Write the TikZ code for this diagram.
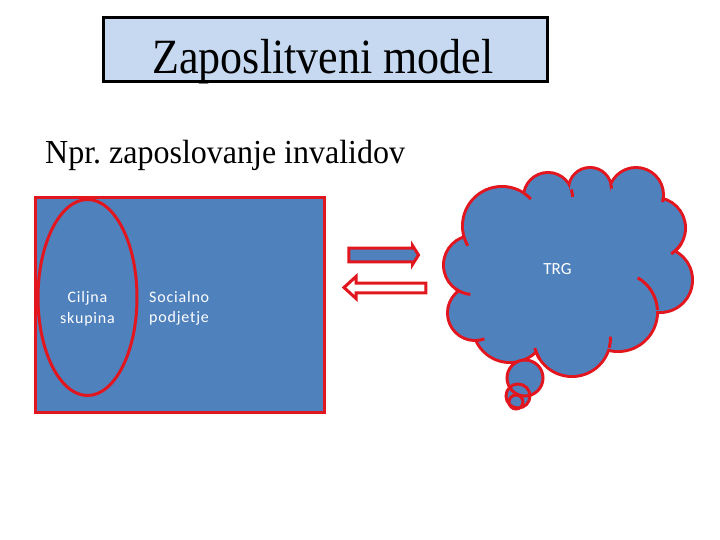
\documentclass[tikz,border=0pt]{standalone}
\usepackage{fontspec}
\usepackage{graphicx}
\setmainfont{Liberation Serif}
\newfontfamily\calib[LetterSpace=5]{Carlito}
\newfontfamily\calibn{Carlito}
\definecolor{pblue}{RGB}{79,129,189}
\definecolor{pred}{RGB}{226,22,30}
\definecolor{tblue}{RGB}{198,217,241}
\tikzset{
  redline/.style={draw=pred, line width=3pt},
  sanslabel/.style={text=white, font=\calib\fontsize{16}{20.5}\selectfont, inner sep=0pt, align=left},
}
\frenchspacing
\begin{document}
\begin{tikzpicture}[x=1pt,y=-1pt]
\useasboundingbox (0,0) rectangle (720,540);
\fill[white] (0,0) rectangle (720,540);

% title
\draw[fill=tblue, draw=black, line width=3pt] (103,18) rectangle (547,82);
\node[anchor=base, inner sep=0pt, font=\fontsize{44}{50}\selectfont] (title) at (323,74) {\scalebox{1}[1.12]{Zaposlitveni model}};

\node[anchor=base west, inner sep=0pt, font=\fontsize{32}{36}\selectfont] (sub) at (45,163.5) {\scalebox{1}[1.05]{Npr. zaposlovanje invalidov}};

% social enterprise box
\draw[redline, fill=pblue] (35.5,198) rectangle (324.5,412.5);
\draw[redline] (87.5,297.5) ellipse[x radius=49.5, y radius=98];
\node[sanslabel, align=center, anchor=base] (ciljna) at (87.5,323) {Ciljna\\skupina};
\node[sanslabel, anchor=base west] (socialno) at (149,322.5) {Socialno\\podjetje};

% arrows
\draw[redline, fill=pblue, line join=miter] (348.8,248.2) -- (412.5,248.2) -- (412.5,245.5) -- (418.5,255) -- (412.5,264.5) -- (412.5,261.8) -- (348.8,261.8) -- cycle;
\draw[redline, fill=white, line join=miter] (425.8,283.2) -- (356,283.2) -- (356,276.5) -- (344,287.5) -- (356,298.5) -- (356,292.8) -- (425.8,292.8) -- cycle;

% cloud
\def\puffs{473/265/28, 502/226/38, 548/197/23, 590/189/20, 636/195/26, 655/228/29, 660/280/31, 618/312/38, 572/338/37, 510/325/36, 475/313/26}
\foreach \cx/\cy/\r in \puffs { \draw[pred, line width=6pt] (\cx,\cy) circle[radius=\r]; }
\fill[pblue] (473,265) -- (502,226) -- (548,197) -- (590,189) -- (636,195) -- (655,228) -- (660,280) -- (618,312) -- (572,338) -- (510,325) -- (475,313) -- cycle;
\foreach \cx/\cy/\r in \puffs { \fill[pblue] (\cx,\cy) circle[radius=\r]; }
% inner hooks
\foreach \cx/\cy/\r/\a/\b in {473/265/29.5/95/126, 502/226/39.5/150/162, 502/226/39.5/305/317, 548/197/24.5/342/360, 590/189/21.5/349/359, 636/195/27.5/6/15, 655/228/30.5/29/58, 618/312/39.5/-60/-3, 572/338/38.5/147/165, 572/338/38.5/-2/15, 475/313/27.5/70/88}
  { \draw[pred, line width=3pt] ([shift={(\a:\r)}]\cx,\cy) arc[start angle=\a, end angle=\b, radius=\r]; }
% thought bubbles
\fill[pblue] (525,378) circle[radius=18] (518,396) circle[radius=12] (516,402) circle[radius=7];
\draw[redline] (525,378) circle[radius=18];
\draw[redline] (518,396) circle[radius=12];
\draw[redline] (516,402) circle[radius=7];

\node[text=white, font=\calibn\fontsize{17}{20}\selectfont, inner sep=0pt, anchor=base] (trg) at (557.5,274) {TRG};
\end{tikzpicture}
\end{document}
